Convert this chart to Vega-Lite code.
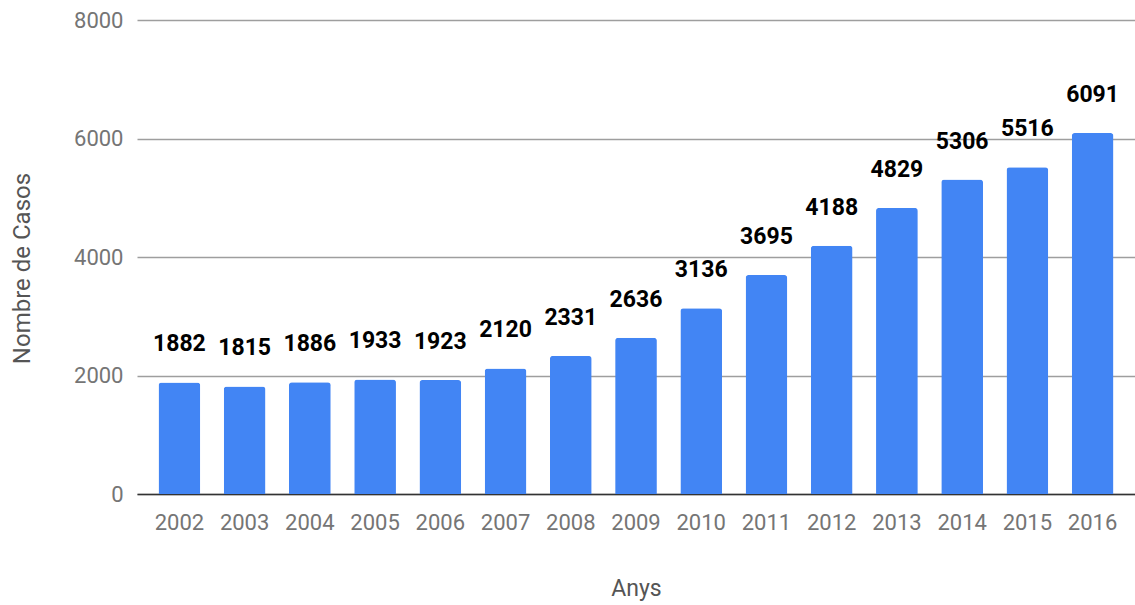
{
  "$schema": "https://vega.github.io/schema/vega-lite/v6.json",
  "autosize": "none",
  "width": 998,
  "height": 474,
  "padding": {"left": 137, "top": 20, "right": 0, "bottom": 111},
  "background": "white",
  "config": {
    "view": {"stroke": null},
    "font": "Roboto"
  },
  "data": {
    "values": [
      {"Any": "2002", "Casos": 1882},
      {"Any": "2003", "Casos": 1815},
      {"Any": "2004", "Casos": 1886},
      {"Any": "2005", "Casos": 1933},
      {"Any": "2006", "Casos": 1923},
      {"Any": "2007", "Casos": 2120},
      {"Any": "2008", "Casos": 2331},
      {"Any": "2009", "Casos": 2636},
      {"Any": "2010", "Casos": 3136},
      {"Any": "2011", "Casos": 3695},
      {"Any": "2012", "Casos": 4188},
      {"Any": "2013", "Casos": 4829},
      {"Any": "2014", "Casos": 5306},
      {"Any": "2015", "Casos": 5516},
      {"Any": "2016", "Casos": 6091}
    ]
  },
  "encoding": {
    "x": {
      "field": "Any",
      "type": "nominal",
      "title": "Anys",
      "scale": {"paddingInner": 0.36, "paddingOuter": 0.33},
      "axis": {
        "labelAngle": 0,
        "labelFont": "Roboto",
        "labelFontSize": 22,
        "labelColor": "#757575",
        "labelPadding": 18,
        "ticks": false,
        "domainColor": "#333333",
        "domainWidth": 1.5,
        "titleFont": "Roboto",
        "titleFontSize": 23,
        "titleFontWeight": "normal",
        "titleColor": "#555555",
        "titleY": 94,
        "titleBaseline": "middle"
      }
    },
    "y": {
      "field": "Casos",
      "type": "quantitative",
      "title": "Nombre de Casos",
      "scale": {"domain": [0, 8000]},
      "axis": {
        "values": [0, 2000, 4000, 6000, 8000],
        "format": "d",
        "labelFont": "Roboto",
        "labelFontSize": 22,
        "labelColor": "#757575",
        "labelPadding": 14,
        "ticks": false,
        "domain": false,
        "gridColor": "#9e9e9e",
        "gridWidth": 1.5,
        "titleFont": "Roboto",
        "titleFontSize": 24,
        "titleFontWeight": "normal",
        "titleColor": "#555555",
        "titleX": -115,
        "titleY": 248,
        "titleBaseline": "middle"
      }
    }
  },
  "layer": [
    {
      "mark": {
        "type": "bar",
        "color": "#4285F4",
        "cornerRadiusTopLeft": 3,
        "cornerRadiusTopRight": 3
      }
    },
    {
      "mark": {
        "type": "text",
        "font": "Roboto",
        "fontSize": 23,
        "fontWeight": "bold",
        "color": "#000000",
        "baseline": "middle",
        "dy": -38
      },
      "encoding": {
        "text": {"field": "Casos", "type": "quantitative", "format": "d"}
      }
    }
  ]
}
